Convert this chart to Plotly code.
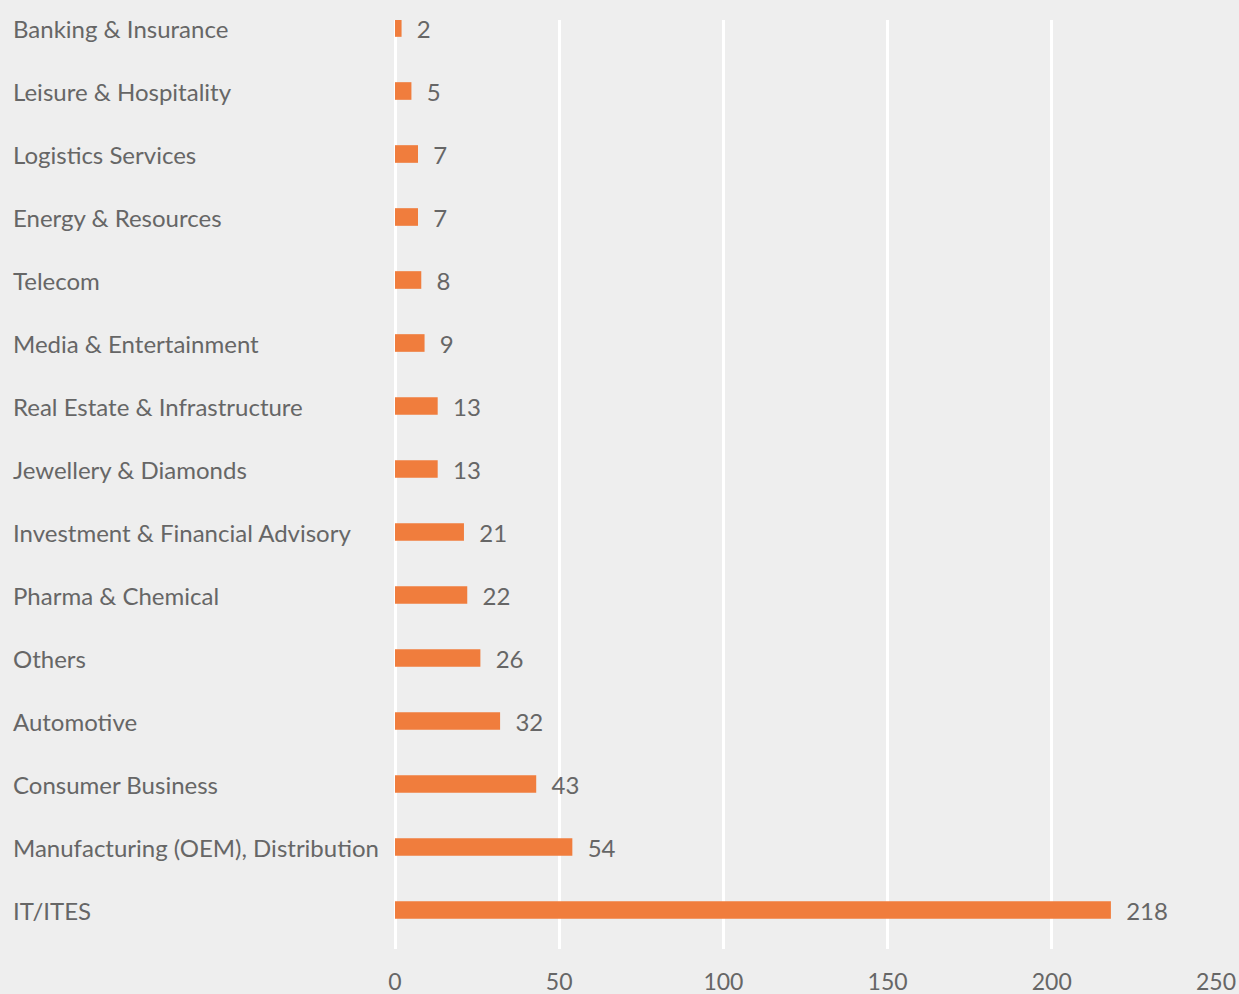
import plotly.graph_objects as go

categories = [
    "IT/ITES",
    "Manufacturing (OEM), Distribution",
    "Consumer Business",
    "Automotive",
    "Others",
    "Pharma & Chemical",
    "Investment & Financial Advisory",
    "Jewellery & Diamonds",
    "Real Estate & Infrastructure",
    "Media & Entertainment",
    "Telecom",
    "Energy & Resources",
    "Logistics Services",
    "Leisure & Hospitality",
    "Banking & Insurance",
]
values = [218, 54, 43, 32, 26, 22, 21, 13, 13, 9, 8, 7, 7, 5, 2]
x_ticks = [0, 50, 100, 150, 200, 250]

FONT = "Lato"
TEXT = "#666666"
BAR = "#F07D3D"
BG = "#EEEEEE"

fig = go.Figure()
fig.add_trace(go.Bar(
    x=values,
    y=list(range(len(categories))),
    orientation="h",
    marker=dict(color=BAR, line=dict(width=0)),
    width=0.28,
    text=[f"  {v}" for v in values],
    textposition="outside",
    constraintext="none",
    textfont=dict(family=FONT, size=24, color=TEXT),
    outsidetextfont=dict(family=FONT, size=24, color=TEXT),
    cliponaxis=False,
    hoverinfo="skip",
))

for i, c in enumerate(categories):
    fig.add_annotation(
        x=0, xref="paper", y=i, yref="y",
        text=c, showarrow=False, xanchor="left", yanchor="middle",
        xshift=-384,
        font=dict(family=FONT, size=24, color=TEXT),
    )

fig.update_layout(
    width=1239, height=994,
    margin=dict(l=395, r=23, t=20, b=45, autoexpand=False),
    paper_bgcolor=BG, plot_bgcolor=BG,
    showlegend=False,
    xaxis=dict(
        range=[0, 250], tickvals=x_ticks, ticktext=[str(t) for t in x_ticks],
        showgrid=True, gridcolor="#FFFFFF", gridwidth=3,
        zeroline=True, zerolinecolor="#FFFFFF", zerolinewidth=3,
        showline=False, automargin=False,
        ticks="outside", ticklen=12, tickcolor="rgba(0,0,0,0)",
        tickfont=dict(family=FONT, size=23, color=TEXT),
        fixedrange=True,
    ),
    yaxis=dict(
        range=[-0.619, 14.127], automargin=False,
        showticklabels=False, showgrid=False, zeroline=False, showline=False,
        fixedrange=True,
    ),
)

fig.write_html("out.html")
